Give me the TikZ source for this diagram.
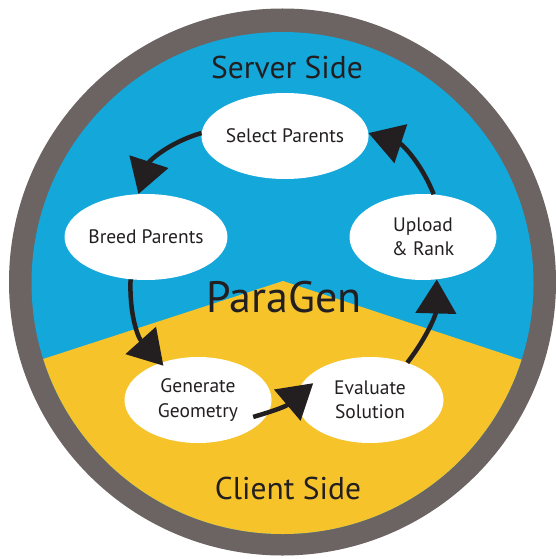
\documentclass[tikz,border=0pt]{standalone}
\usepackage{fontspec}
\setmainfont{PT Sans}
\usepackage{xcolor}
\usetikzlibrary{arrows.meta,shapes.geometric}

\definecolor{ringgray}{HTML}{6C6462}
\definecolor{serverblue}{HTML}{13A7DA}
\definecolor{clientyellow}{HTML}{F6C32A}
\definecolor{inkblack}{HTML}{231F20}

\begin{document}
\begin{tikzpicture}[x=1pt, y=-1pt,
  step box/.style={ellipse, fill=white, minimum width=147pt, minimum height=86pt,
              inner sep=0pt, align=center, text=inkblack,
              font=\fontsize{19.5}{24.5}\selectfont},
  side label/.style={text=inkblack, font=\fontsize{31.5}{36}\selectfont},
  arrow/.style={-{Triangle[length=34pt, width=40pt]}, line width=4.5pt, inkblack}
]
\useasboundingbox (0,0) rectangle (556,559);

% ring and the two halves
\fill[ringgray] (282.5,282) circle (273.5pt);
\begin{scope}
  \clip (282.5,283) circle (251pt);
  \fill[serverblue] (20,20) rectangle (545,545);
  \fill[clientyellow] (283,281) -- (20,366.5) -- (20,545) -- (545,545) -- (545,367.5) -- cycle;
\end{scope}

\node[side label] (server) at (287,67) {Server Side};
\node[side label] (client) at (288,488) {Client Side};
\node[text=inkblack, font=\fontsize{44}{48}\selectfont] (paragen) at (284,297) {ParaGen};

% the cycle
\node[step box] (select) at (285,136) {Select Parents};
\node[step box] (breed) at (146,237) {Breed Parents};
\node[step box] (upload) at (423,237) {Upload\\ \& Rank};
\node[step box] (generate) at (198,400) {Generate\\ Geometry};
\node[step box] (evaluate) at (370,400) {Evaluate\\ Solution};

\draw[arrow] (select.178) to[bend right=28] (breed.100);
\draw[arrow, shorten >=-4pt] (breed.-110) to[bend right=22] (generate.135);
\draw[arrow, shorten <=-16pt, shorten >=-22pt] (generate.-10) to[bend right=12] (evaluate.178);
\draw[arrow] (evaluate.45) to[bend right=18] (upload.-72);
\draw[arrow] (upload.76) to[bend right=25] (select.2);
\end{tikzpicture}
\end{document}
